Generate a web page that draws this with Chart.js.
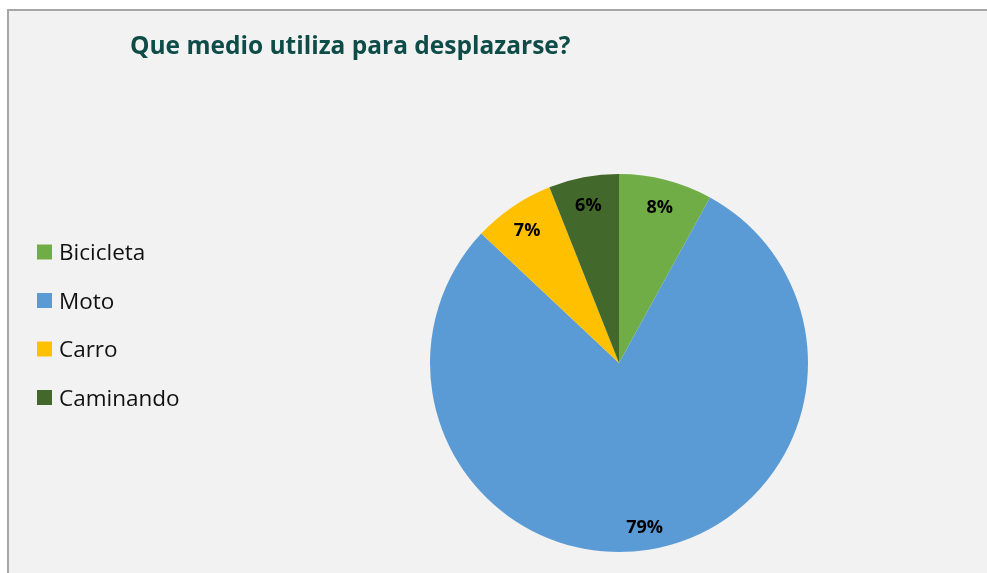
<!DOCTYPE html>
<html>
<head>
<meta charset="utf-8">
<script src="https://cdn.jsdelivr.net/npm/chart.js@4.4.1/dist/chart.umd.min.js"></script>
<style>
  html, body { margin: 0; padding: 0; background: #fff; }
  #frame {
    position: absolute; left: 7px; top: 9px; right: 0; bottom: 0;
    border-left: 2px solid #a6a6a6; border-top: 2px solid #a6a6a6;
    background: #f2f2f2;
  }
  #pieChart { position: absolute; left: 0; top: 0; }
</style>
</head>
<body>
<div id="frame"></div>
<canvas id="pieChart" width="987" height="573"></canvas>
<script>
const chartTitle = 'Que medio utiliza para desplazarse?';
const categories = ['Bicicleta', 'Moto', 'Carro', 'Caminando'];
const percents = [8, 79, 7, 6];
const sliceColors = ['#70ad47', '#5b9bd5', '#ffc000', '#43682b'];

// title drawn at the top-left, like the original
const titlePlugin = {
    id: 'leftTitle',
    afterDraw(chart) {
        const ctx = chart.ctx;
        ctx.save();
        ctx.font = 'bold 24.5px "Open Sans"';
        ctx.fillStyle = '#0e4c48';
        ctx.textAlign = 'left';
        ctx.textBaseline = 'alphabetic';
        ctx.fillText(chartTitle, 130, 54);
        ctx.restore();
    }
};

// legend on the left side, one row per category
const sideLegend = {
    id: 'sideLegend',
    afterDraw(chart) {
        const ctx = chart.ctx;
        const ds = chart.data.datasets[0];
        ctx.save();
        ctx.font = '22.5px "Open Sans"';
        ctx.textBaseline = 'alphabetic';
        ctx.textAlign = 'left';
        chart.data.labels.forEach((lab, i) => {
            const y = 252 + i * 48.5;
            ctx.fillStyle = ds.backgroundColor[i];
            ctx.fillRect(37, y - 7.5, 15, 15);
            ctx.fillStyle = '#111';
            ctx.fillText(lab, 59, y + 8);
        });
        ctx.restore();
    }
};

// percentage labels inside each slice
const sliceLabels = {
    id: 'sliceLabels',
    afterDatasetsDraw(chart) {
        const ctx = chart.ctx;
        const meta = chart.getDatasetMeta(0);
        const values = chart.data.datasets[0].data;
        ctx.save();
        ctx.font = 'bold 18px "Open Sans"';
        ctx.fillStyle = '#000';
        ctx.textAlign = 'center';
        ctx.textBaseline = 'middle';
        meta.data.forEach((arc, i) => {
            const p = arc.getProps(['x', 'y', 'startAngle', 'endAngle', 'outerRadius'], true);
            const mid = (p.startAngle + p.endAngle) / 2;
            const r = p.outerRadius * 0.865;
            ctx.fillText(values[i] + '%', p.x + Math.cos(mid) * r, p.y + Math.sin(mid) * r + 3);
        });
        ctx.restore();
    }
};

const ctx = document.getElementById('pieChart').getContext('2d');
const chart = new Chart(ctx, {
    type: 'pie',
    data: {
        labels: categories,
        datasets: [{
            data: percents,
            backgroundColor: sliceColors,
            borderWidth: 0
        }]
    },
    options: {
        responsive: false,
        animation: false,
        layout: { padding: { top: 174, bottom: 21, left: 430, right: 179 } },
        plugins: {
            legend: { display: false },
            title: { display: false },
            tooltip: { enabled: false }
        }
    },
    plugins: [titlePlugin, sideLegend, sliceLabels]
});
</script>
</body>
</html>
